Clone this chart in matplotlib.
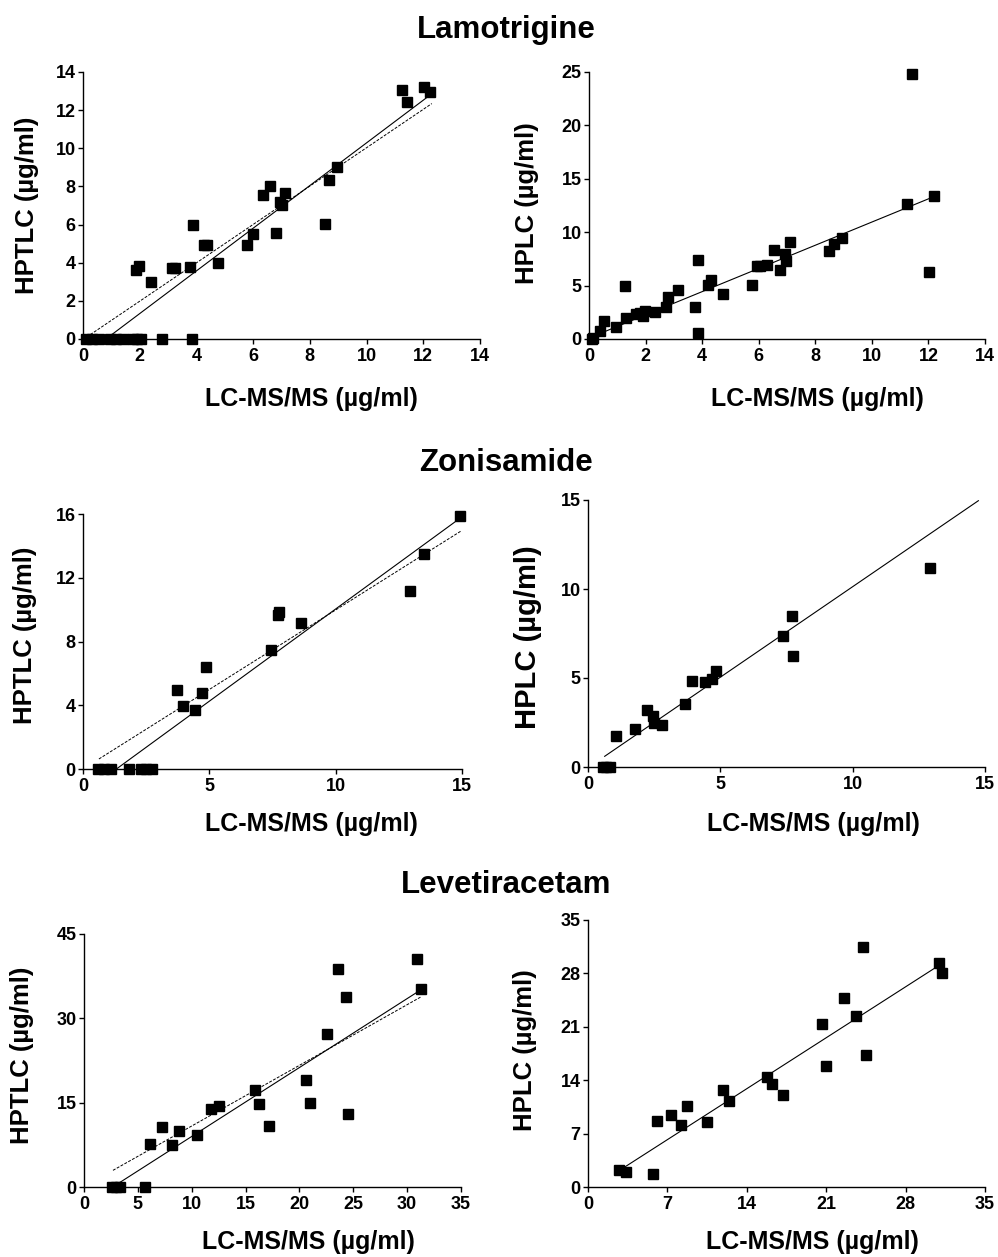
import matplotlib
matplotlib.use('Agg')
import matplotlib.pyplot as plt

plt.rcParams['font.family'] = ['Liberation Sans', 'DejaVu Sans']
plt.rcParams['font.weight'] = 'bold'

# ---- Lamotrigine: HPTLC vs LC-MS/MS
lam1_x = [0.1, 0.3, 0.55, 0.95, 1.15, 1.4, 1.75, 1.9, 2.05, 2.8, 3.85,
          1.88, 1.96, 2.4, 3.15, 3.25, 3.78, 3.88, 4.25, 4.37, 4.76, 5.78,
          5.99, 6.34, 6.58, 6.79, 6.95, 7.01, 7.13, 8.54, 8.69, 8.97,
          11.26, 11.44, 12.03, 12.24]
lam1_y = [0, 0, 0, 0, 0, 0, 0, 0, 0, 0, 0,
          3.64, 3.85, 2.97, 3.72, 3.72, 3.78, 5.96, 4.95, 4.95, 3.99, 4.95,
          5.52, 7.53, 8.0, 5.56, 7.17, 7.01, 7.66, 6.03, 8.36, 9.02,
          13.04, 12.41, 13.22, 12.95]
lam1_fit = [1.119, -0.905, 0.96, 12.18]      # slope, intercept, x from, x to
lam1_fit2 = [1.006, -0.03, 0.26, 12.3]

# ---- Lamotrigine: HPLC vs LC-MS/MS
lam2_x = [0.1, 0.15, 0.39, 0.54, 0.95, 1.27, 1.31, 1.66, 1.8, 1.9, 1.98,
          2.35, 2.72, 2.8, 3.16, 3.74, 3.85, 3.85, 4.21, 4.3, 4.73, 5.75,
          5.95, 6.05, 6.3, 6.54, 6.75, 6.94, 6.96, 7.11, 8.5, 8.66, 8.96,
          11.23, 11.43, 12.03, 12.2]
lam2_y = [0.0, 0.06, 0.72, 1.65, 1.12, 4.99, 1.94, 2.34, 2.43, 2.18, 2.65,
          2.56, 3.0, 3.93, 4.56, 3.0, 7.37, 0.56, 5.09, 5.49, 4.21, 5.09,
          6.8, 6.85, 6.96, 8.3, 6.49, 7.99, 7.27, 9.08, 8.21, 8.9, 9.46,
          12.64, 24.84, 6.24, 13.42]
lam2_fit = [1.086, 0.09, 0.15, 12.17]

# ---- Zonisamide: HPTLC vs LC-MS/MS
zon1_x = [0.6, 0.85, 1.1, 1.82, 2.31, 2.51, 2.75, 3.73, 3.96, 4.44, 4.72,
          4.88, 7.43, 7.73, 7.77, 8.62, 12.95, 13.51, 14.93]
zon1_y = [0, 0, 0, 0, 0, 0, 0, 4.98, 3.93, 3.68, 4.77,
          6.4, 7.49, 9.64, 9.85, 9.16, 11.15, 13.47, 15.85]
zon1_fit = [1.157, -1.53, 1.32, 14.93]
zon1_fit2 = [0.998, 0.0, 0.63, 14.97]

# ---- Zonisamide: HPLC vs LC-MS/MS
zon2_x = [0.57, 0.69, 0.84, 1.07, 1.79, 2.23, 2.46, 2.48, 2.8, 3.68, 3.93,
          4.41, 4.7, 4.83, 7.37, 7.69, 7.75, 12.92]
zon2_y = [0, 0, 0, 1.72, 2.13, 3.18, 2.88, 2.47, 2.38, 3.55, 4.81,
          4.77, 4.94, 5.42, 7.37, 8.49, 6.25, 11.17]
zon2_fit = [1.017, -0.04, 0.63, 14.75]

# ---- Levetiracetam: HPTLC vs LC-MS/MS
lev1_x = [2.63, 3.0, 3.38, 5.7, 6.1, 7.25, 8.21, 8.8, 10.53, 11.83, 12.51,
          15.86, 16.26, 17.19, 20.6, 20.97, 22.58, 23.6, 24.28, 24.53,
          30.88, 31.25]
lev1_y = [0, 0, 0, 0, 7.64, 10.6, 7.52, 9.89, 9.18, 13.91, 14.45,
          17.17, 14.68, 10.78, 19.06, 14.86, 27.23, 38.72, 33.75, 12.91,
          40.56, 35.23]
lev1_fit = [1.226, -3.27, 3.0, 31.25]
lev1_fit2 = [1.079, 0.06, 2.69, 31.34]

# ---- Levetiracetam: HPLC vs LC-MS/MS
lev2_x = [2.71, 3.32, 5.74, 6.12, 7.29, 8.24, 8.76, 10.53, 11.91, 12.44,
          15.82, 16.24, 17.15, 20.59, 20.97, 22.59, 23.59, 24.26, 24.47,
          30.94, 31.24]
lev2_y = [2.18, 1.92, 1.7, 8.69, 9.47, 8.16, 10.56, 8.47, 12.66, 11.22,
          14.4, 13.53, 12.0, 21.39, 15.89, 24.75, 22.44, 31.51, 17.33,
          29.42, 28.02]
lev2_fit = [0.954, -0.47, 3.24, 30.88]

W, H = 998, 1257
fig = plt.figure(figsize=(W / 100, H / 100), dpi=100)


def px_rect(x0, x1, y0, y1):
    return [x0 / W, 1 - y1 / H, (x1 - x0) / W, (y1 - y0) / H]


panels = [
    # x data, y data, fits, box px, xmax, xstep, ymax, ystep, ylabel, xlabel ctr, ylabel ctr, ylabel size
    (lam1_x, lam1_y, [lam1_fit], [lam1_fit2], (83, 480, 72, 339), 14, 2, 14, 2,
     'HPTLC (µg/ml)', (311, 399), (27, 205), 18.5),
    (lam2_x, lam2_y, [lam2_fit], [], (589, 985, 72, 339), 14, 2, 25, 5,
     'HPLC (µg/ml)', (817, 399), (527, 203), 18.5),
    (zon1_x, zon1_y, [zon1_fit], [zon1_fit2], (83, 462, 514, 769), 15, 5, 16, 4,
     'HPTLC (µg/ml)', (311, 824), (25, 635), 18.5),
    (zon2_x, zon2_y, [zon2_fit], [], (588, 985, 500, 767), 15, 5, 15, 5,
     'HPLC (µg/ml)', (813, 824), (528, 637), 21),
    (lev1_x, lev1_y, [lev1_fit], [lev1_fit2], (84, 461, 934, 1187), 35, 5, 45, 15,
     'HPTLC (µg/ml)', (308, 1242), (22, 1055), 18.5),
    (lev2_x, lev2_y, [lev2_fit], [], (588, 985, 920, 1187), 35, 7, 35, 7,
     'HPLC (µg/ml)', (812, 1242), (525, 1050), 18.5),
]

for (xs, ys, solid, dashed, box, xmax, xstep, ymax, ystep,
     ylab, xl_c, yl_c, ylsize) in panels:
    x0, x1, y0, y1 = box
    ax = fig.add_axes(px_rect(x0, x1, y0, y1))
    ax.plot(xs, ys, 's', color='black', ms=7.2, clip_on=False, zorder=3)
    for m, b, a, e in solid:
        ax.plot([a, e], [m * a + b, m * e + b], '-', color='black', lw=0.8)
    for m, b, a, e in dashed:
        ax.plot([a, e], [m * a + b, m * e + b], '--', color='black', lw=0.7,
                dashes=(3, 1.5))
    ax.set_xlim(0, xmax)
    ax.set_ylim(0, ymax)
    ax.set_xticks(range(0, xmax + 1, xstep))
    ax.set_yticks(range(0, ymax + 1, ystep))
    ax.spines['top'].set_visible(False)
    ax.spines['right'].set_visible(False)
    for s in ('left', 'bottom'):
        ax.spines[s].set_linewidth(1.0)
    ax.tick_params(direction='out', length=3.8, width=1.0, labelsize=13)
    ax.tick_params(axis='x', pad=3.0)
    ax.tick_params(axis='y', pad=1.5)
    for lab in ax.get_xticklabels() + ax.get_yticklabels():
        lab.set_fontweight('bold')
    ax.set_xlabel('LC-MS/MS (µg/ml)', fontsize=18, fontweight='bold', va='center')
    ax.xaxis.set_label_coords((xl_c[0] - x0) / (x1 - x0), -(xl_c[1] - y1) / (y1 - y0))
    ax.set_ylabel(ylab, fontsize=ylsize, fontweight='bold', va='center', ha='center')
    ax.yaxis.set_label_coords(-(x0 - yl_c[0]) / (x1 - x0), 1 - (yl_c[1] - y0) / (y1 - y0))

titles = ['Lamotrigine', 'Zonisamide', 'Levetiracetam']
title_y = [30, 463, 885]
for t, ty in zip(titles, title_y):
    fig.text(506 / W, 1 - ty / H, t, ha='center', va='center',
             fontsize=22.5, fontweight='bold')

fig.savefig('out.png', dpi=100)
